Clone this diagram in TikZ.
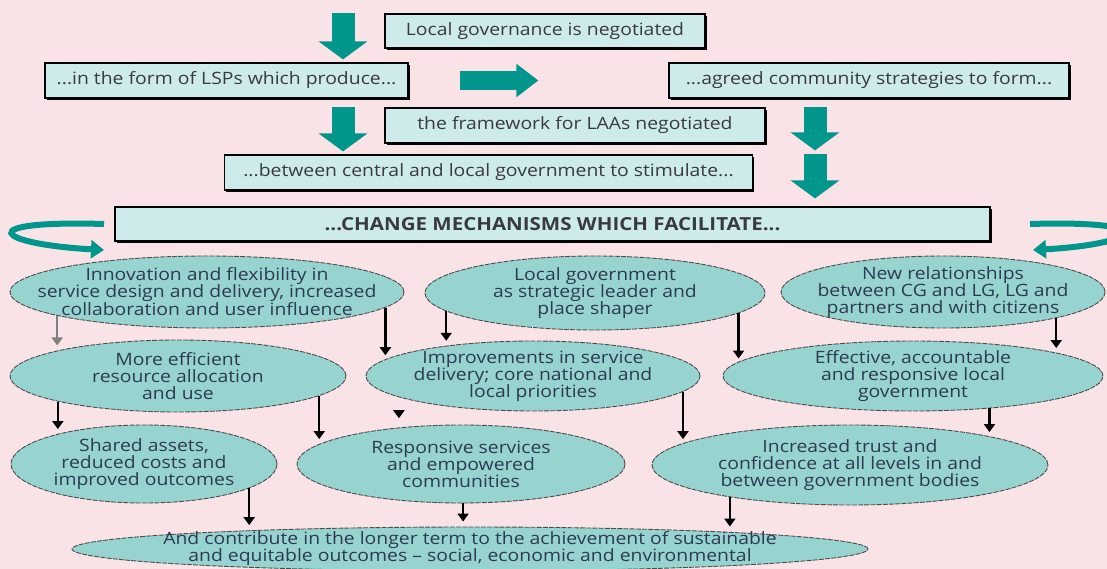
\documentclass[tikz,border=0pt]{standalone}
\usepackage{fontspec}
\setmainfont{Open Sans}[FakeStretch=1.14]
\usetikzlibrary{arrows.meta,shapes.geometric,shadows}
\definecolor{blush}{HTML}{FAE3E6}
\definecolor{mist}{HTML}{CDEBEA}
\definecolor{lagoon}{HTML}{97D4D0}
\definecolor{petrol}{HTML}{00968B}
\definecolor{ink}{HTML}{383A3F}
\definecolor{deep}{HTML}{2C3A52}
\tikzset{
 box/.style={draw=black,line width=1.2pt,fill=mist,text=ink,inner sep=0pt,drop shadow={shadow xshift=1.6pt,shadow yshift=-1.6pt,fill=black,opacity=1}},
 oval/.style={ellipse,draw=black!70,line width=0.9pt,dash pattern=on 5pt off 1.2pt,fill=lagoon,inner sep=0pt},
 lbl/.style={align=center,text=deep,inner sep=0pt},
 bigarrow/.style={draw=petrol,line width=23pt,-{Triangle[width=48pt,length=18pt]}},
 arr/.style={draw=black,line width=2.2pt,-{Triangle[width=11pt,length=8pt]},shorten >=5pt},
 swirl/.style={draw=petrol,line width=6pt,-{Triangle[width=18pt,length=13pt]}},
}

\begin{document}
\begin{tikzpicture}[x=1pt,y=-1pt,font=\fontsize{17}{17}\selectfont]
\useasboundingbox (0,0) rectangle (1107,569);
\clip (0,0) rectangle (1107,569);
\fill[blush] (0,0) rectangle (1107,569);

\node[box,minimum width=320pt,minimum height=34pt] (gov) at (545,31) {Local governance is negotiated};
\node[box,minimum width=363pt,minimum height=35pt] (lsp) at (226.5,80.5) {...in the form of LSPs which produce...};
\node[box,minimum width=400pt,minimum height=35pt] (strat) at (869,80.5) {...agreed community strategies to form...};
\node[box,minimum width=380pt,minimum height=35pt] (frame) at (575,125.5) {the framework for LAAs negotiated};
\node[box,minimum width=528pt,minimum height=35pt] (stim) at (488.5,172.5) {...between central and local government to stimulate...};
\node[box,minimum width=875pt,minimum height=34pt,font=\fontsize{18}{18}\selectfont\bfseries] (change) at (552.5,224) {...CHANGE MECHANISMS WHICH FACILITATE...};

\draw[bigarrow,shorten >=3pt] (343,0 |- gov.north) -- (343,0 |- lsp.north);
\draw[bigarrow,shorten >=3pt] (343,0 |- frame.north) -- (343,0 |- stim.north);
\draw[bigarrow,shorten >=4pt] (815,0 |- frame.north) -- (815,0 |- stim.north);
\draw[bigarrow,shorten >=8pt] (815,0 |- stim.north) -- (815,0 |- change.north);
\draw[bigarrow,line width=19pt,-{Triangle[width=32pt,length=22pt]}] ([xshift=51pt]lsp.east) -- ([xshift=-130pt]strat.west);

\coordinate (ltail) at (104,224);
\coordinate (ltip) at (104,250);
\draw[swirl] (ltail) .. controls (-30,220) and (-5,244) .. (ltip);
\coordinate (rtail) at (1030,224);
\coordinate (rtip) at (1033,250);
\draw[swirl] (rtail) .. controls (1165,220) and (1140,244) .. (rtip);

\node[oval,minimum width=394pt,minimum height=72pt,label={[lbl]center:{Innovation and flexibility in\\service design and delivery, increased\\collaboration and user influence}}] (innov) at (207,292) {};
\node[oval,minimum width=340pt,minimum height=74pt,label={[lbl]center:{Local government\\as strategic leader and\\place shaper}}] (leader) at (595,293) {};
\node[oval,minimum width=324pt,minimum height=72pt,label={[lbl]center:{New relationships\\between CG and LG, LG and\\partners and with citizens}}] (relat) at (943,292) {};
\node[oval,minimum width=336pt,minimum height=72pt,label={[lbl]center:{More efficient\\resource allocation\\and use}}] (effic) at (178,376) {};
\node[oval,minimum width=334pt,minimum height=70pt,label={[lbl]center:{Improvements in service\\delivery; core national and\\local priorities}}] (improv) at (533,376) {};
\node[oval,minimum width=380pt,minimum height=70pt,label={[lbl]center:{Effective, accountable\\and responsive local\\government}}] (effect) at (913,376) {};
\node[oval,minimum width=266pt,minimum height=78pt,label={[lbl]center:{Shared assets,\\reduced costs and\\improved outcomes}}] (shared) at (144,464) {};
\node[oval,minimum width=328pt,minimum height=78pt,label={[lbl]center:{Responsive services\\and empowered\\communities}}] (respon) at (461,464) {};
\node[oval,minimum width=396pt,minimum height=80pt,label={[lbl]center:{Increased trust and\\confidence at all levels in and\\between government bodies}}] (trust) at (850,465) {};
\node[oval,minimum width=796pt,minimum height=44pt,label={[lbl]center:{And contribute in the longer term to the achievement of sustainable\\and equitable outcomes -- social, economic and environmental}}] (outcome) at (470,549) {};

\draw[arr,draw=black!50] (innov.189) -- (innov.189 |- effic.168);
\foreach \s/\t in {innov.355/improv.174,leader.187/improv.161,leader.352/effect.176,relat.347/effect.9,
  effic.192/shared.161,effic.352/respon.172,improv.354/trust.173,effect.337/trust.11,
  shared.347/outcome.175,respon.273/outcome.91,trust.195/outcome.4}
  \draw[arr] (\s) -- (\s |- \t);
\draw[arr,shorten >=0pt] ([yshift=-14pt]improv.189) -- ++(0,7);

\end{tikzpicture}
\end{document}
